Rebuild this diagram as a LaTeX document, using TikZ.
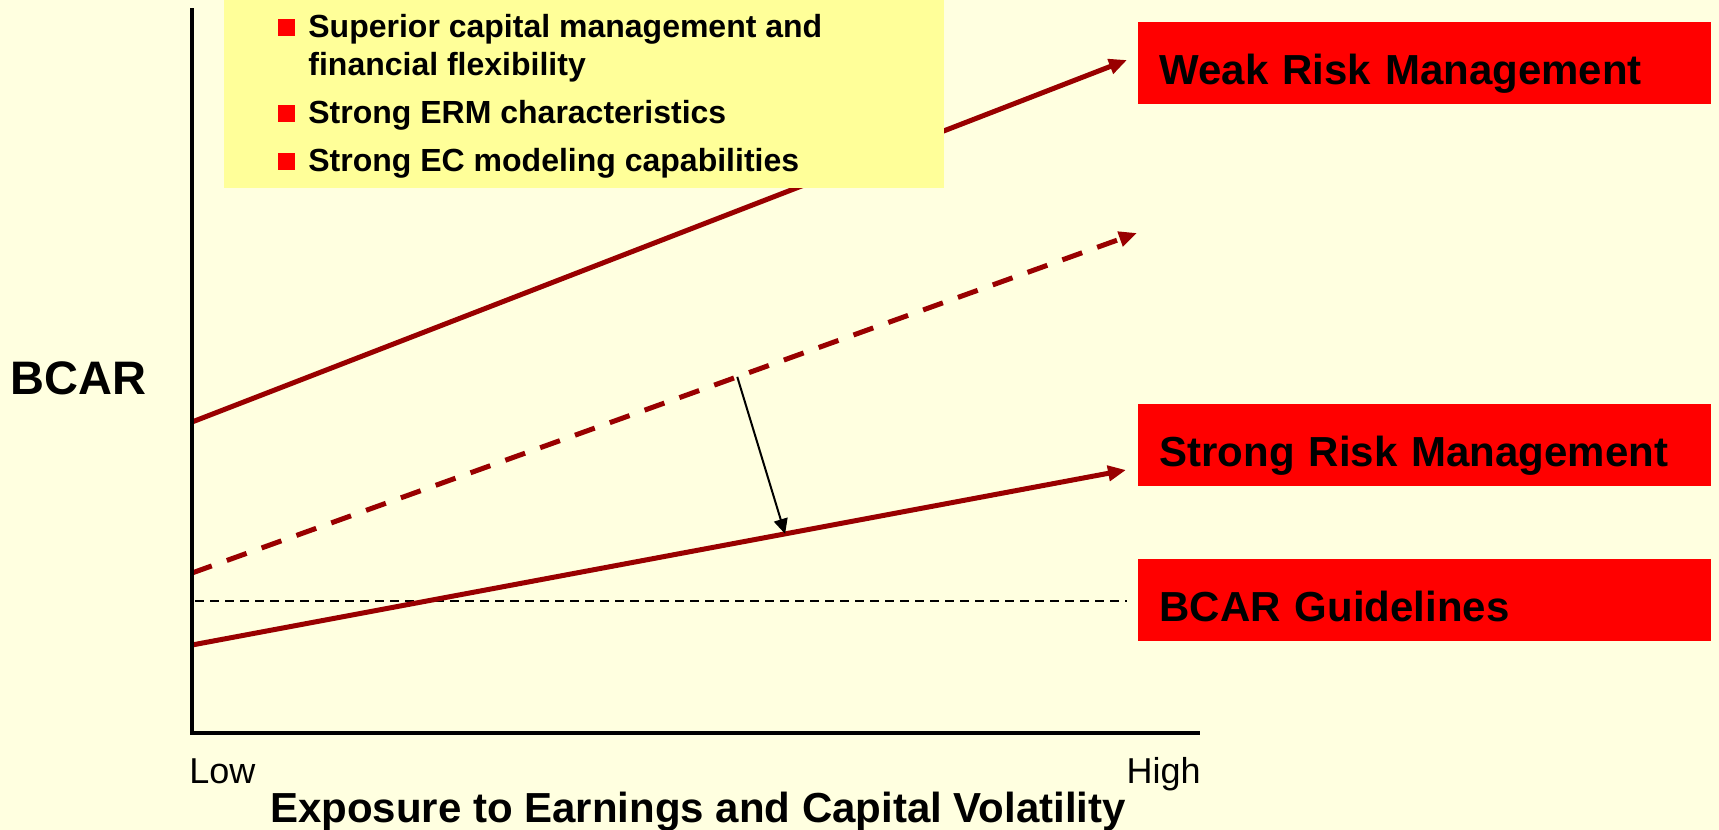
\documentclass[tikz,border=0pt]{standalone}
\usepackage{fontspec}
\setmainfont{Liberation Sans}
\usetikzlibrary{arrows.meta,calc,positioning}
\definecolor{bgcream}{HTML}{FFFFE0}
\definecolor{notepad}{HTML}{FFFF99}
\definecolor{boxred}{HTML}{FF0000}
\definecolor{linered}{HTML}{990000}
\newcommand*{\sqbullet}{\llap{\textcolor{boxred}{\rule[1pt]{8.5pt}{8.5pt}}\hspace{6.5pt}}}

\begin{document}
\begin{tikzpicture}[
  x=0.5pt, y=-0.5pt,
  >=Stealth,
  axisline/.style={line width=2pt, line join=miter},
  riskline/.style={line width=2.5pt, color=linered, -{Triangle[length=9pt,width=7.5pt]}},
  dropline/.style={line width=1pt, -{Triangle[length=7.5pt,width=7pt]}},
  guideline/.style={line width=1pt, dash pattern=on 4.5pt off 3pt},
  riskbox/.style={fill=boxred, anchor=north west, align=left,
    font=\fontsize{21pt}{25pt}\selectfont\bfseries,
    minimum width=286.5pt, minimum height=41pt, text width=265.5pt,
    inner xsep=10.5pt, text height=21pt, text depth=0pt},
  lab/.style={font=\fontsize{21pt}{25pt}\selectfont\bfseries, inner sep=0pt},
  endlab/.style={font=\fontsize{18pt}{22pt}\selectfont, inner sep=0pt}
]

% --- page and background
\useasboundingbox (0,0) rectangle (1719,830);
\fill[bgcream] (0,0) rectangle (1719,830);

% --- axis corners
\def\xO{192}
\def\yO{733}
\def\xEnd{1200}
\def\yTop{8}

% --- start and end of the three lines
\coordinate (wkA) at (\xO,422);
\coordinate (wkB) at (1127,60);
\coordinate (dsA) at (\xO,573);
\coordinate (dsB) at (1137,233);
\coordinate (stA) at (\xO,645);
\coordinate (stB) at (1126,470);
\coordinate (gdA) at (195,601);
\coordinate (gdB) at (1127,601);

% --- BCAR guideline (dashed)
\draw[guideline] (gdA) -- (gdB);

% --- weak / unchanged / strong lines
\draw[riskline] (wkA) -- (wkB);
\draw[riskline, dash pattern=on 10.5pt off 8pt] (dsA) -- (dsB);
\draw[riskline] (stA) -- (stB);

% --- shift down with better risk management
\coordinate (shA) at ($(dsA)!0.577!(dsB)$);
\coordinate (shB) at ($(stA)!0.635!(stB)$);
\draw[dropline] (shA) -- (shB);

% --- yellow note with the three points
\fill[notepad] (224,-5) rectangle (944,188);
\node[anchor=north west, inner sep=0pt, align=left,
      font=\fontsize{16pt}{19pt}\selectfont\bfseries] (pros) at (308,14)
  {\sqbullet Superior capital management and\\financial flexibility\\[5pt]%
   \sqbullet Strong ERM characteristics\\[5pt]%
   \sqbullet Strong EC modeling capabilities};

% --- red labels on the right
\node[riskbox] (weak) at (1138,22) {Weak Risk Management};
\node[riskbox] (strong) at (1138,404) {Strong Risk Management};
\node[riskbox] (guide) at (1138,559) {BCAR Guidelines};

% --- axes
\draw[axisline] (\xO,\yTop) -- (\xO,\yO) -- (\xEnd,\yO);
\node[lab, anchor=base west, font=\fontsize{23.5pt}{28pt}\selectfont\bfseries] (ylab) at (10,394) {BCAR};
\node[endlab, anchor=base west] (low) at (189,783) {Low};
\node[endlab, anchor=base east] (high) at (1201,783) {High};
\node[lab, anchor=base] (xlab) at (698,822) {Exposure to Earnings and Capital Volatility};

\end{tikzpicture}
\end{document}
